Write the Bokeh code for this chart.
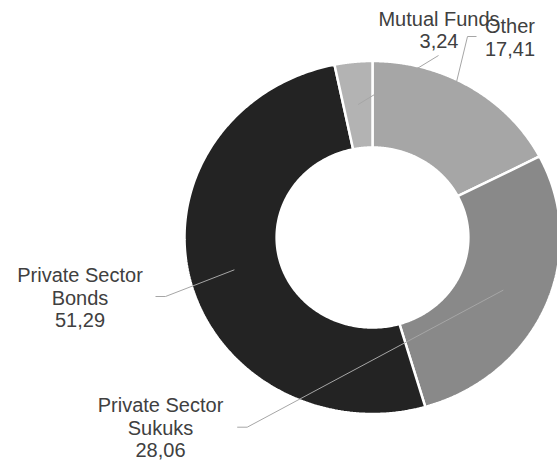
import numpy as np
from bokeh.plotting import figure
from bokeh.models import Range1d, ColumnDataSource
from bokeh.core.properties import value
from bokeh.embed import file_html
from bokeh.resources import INLINE

# ---- data ----
categories = ["Other", "Private Sector\nSukuks", "Private Sector\nBonds", "Mutual Funds"]
values = [17.41, 28.06, 51.29, 3.24]
colors = ["#a6a6a6", "#898989", "#232323", "#b3b3b3"]

# ---- layout constants (picture pixels) ----
W, H = 557, 463
CX, CY = 372.0, 237.0
RX, RY = 188.0, 176.5
INNER = 0.51
LEAD_R = 0.757
FONT = "20px"
LINE_H = 22.5
TEXT_DY = -7.0
# label anchor: (center x, baseline of first line, elbow end, elbow start)
label_layout = [
    (509.5, 32.5, (476.0, 36.0), (467.0, 36.0)),
    (160.0, 411.5, (236.7, 426.7), (246.7, 426.7)),
    (79.5, 281.7, (155.0, 296.0), (165.0, 296.0)),
    (438.5, 25.0, None, (438.0, 55.0)),
]

p = figure(width=W, height=H, output_backend="svg", toolbar_location=None,
           x_range=Range1d(0, W), y_range=Range1d(H, 0),
           min_border=0, outline_line_color=None)
p.axis.visible = False
p.grid.visible = False
p.background_fill_color = "white"
p.border_fill_color = "white"

total = sum(values)
fr = np.cumsum([0] + values) / total
xs, ys = [], []
mids = []
for i, v in enumerate(values):
    a0, a1 = 2 * np.pi * fr[i], 2 * np.pi * fr[i + 1]
    t = np.linspace(a0, a1, 200)
    ox = CX + RX * np.sin(t)
    oy = CY - RY * np.cos(t)
    ix = CX + RX * INNER * np.sin(t[::-1])
    iy = CY - RY * INNER * np.cos(t[::-1])
    xs.append(list(np.concatenate([ox, ix])))
    ys.append(list(np.concatenate([oy, iy])))
    mids.append((a0 + a1) / 2)

p.patches(xs=xs, ys=ys, fill_color=colors, line_color="white", line_width=2.5)

# leader lines
for i, (lx, ly, elbow_end, elbow_start) in enumerate(label_layout):
    m = mids[i]
    px = CX + RX * LEAD_R * np.sin(m)
    py = CY - RY * LEAD_R * np.cos(m)
    if elbow_end is not None:
        lxs = [elbow_end[0], elbow_start[0], px]
        lys = [elbow_end[1], elbow_start[1], py]
    else:
        lxs = [elbow_start[0], px]
        lys = [elbow_start[1], py]
    p.line(lxs, lys, line_color="#a6a6a6", line_width=1)

# labels
tx, ty, tt = [], [], []
for i, (lx, ly, _, _) in enumerate(label_layout):
    lines = categories[i].split("\n") + [f"{values[i]:.2f}".replace(".", ",")]
    for j, s in enumerate(lines):
        tx.append(lx)
        ty.append(ly + j * LINE_H + TEXT_DY)
        tt.append(s)
src = ColumnDataSource(dict(x=tx, y=ty, text=tt))
p.text(x="x", y="y", text="text", source=src, text_align="center",
       text_baseline="alphabetic", text_font=value("Liberation Sans"),
       text_font_size=FONT, text_color="#404040")

open("out.html", "w").write(file_html(p, INLINE))
